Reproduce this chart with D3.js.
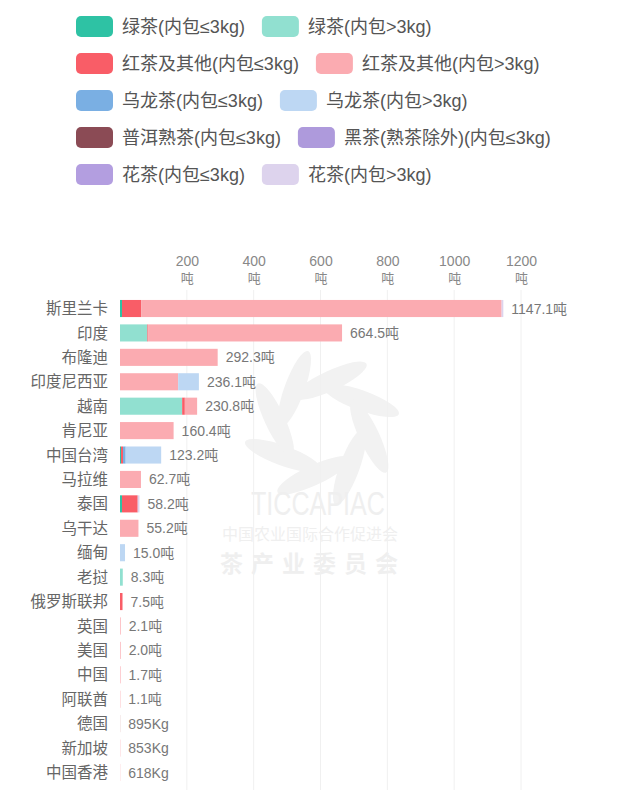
<!DOCTYPE html>
<html><head><meta charset="utf-8">
<script src="https://cdn.jsdelivr.net/npm/d3@7"></script>
<style>
html,body{margin:0;padding:0;background:#fff;}
svg{display:block;font-family:"Liberation Sans","Noto Sans CJK SC",sans-serif;}
</style></head>
<body>
<svg id="chart" width="634" height="800"></svg>
<script>
const countries = ["斯里兰卡","印度","布隆迪","印度尼西亚","越南","肯尼亚","中国台湾","马拉维","泰国","乌干达","缅甸","老挝","俄罗斯联邦","英国","美国","中国","阿联酋","德国","新加坡","中国香港"];
const seriesNames = ["绿茶(内包≤3kg)","绿茶(内包>3kg)","红茶及其他(内包≤3kg)","红茶及其他(内包>3kg)","乌龙茶(内包≤3kg)","乌龙茶(内包>3kg)","普洱熟茶(内包≤3kg)","黑茶(熟茶除外)(内包≤3kg)","花茶(内包≤3kg)","花茶(内包>3kg)"];
const seriesColors = ["#2ec2a4","#91e0d0","#f95d67","#fbabb1","#7aafe3","#bdd7f3","#8b4b55","#ae9adc","#b39ee0","#ddd3ed"];
// values in tonnes, per series (same order as seriesNames), per country
const greenSmall  = [6.0,0,0,0,0,0,3.0,0,6.0,0,0,0,0,0,0,0,0,0,0,0];
const greenLarge  = [0,82.0,0,0,186.0,0,0,0,0,0,0,8.3,0,0,0,0,0,0.3,0,0];
const blackSmall  = [58.0,2.0,0,0,8.0,0,6.0,0,47.0,0,0,0,7.5,0.5,0,0,0,0,0,0];
const blackLarge  = [1078.0,580.5,292.3,174.0,36.8,160.4,0,62.7,0,55.2,0,0,0,1.6,2.0,1.7,1.1,0.595,0.853,0.618];
const oolongSmall = [0,0,0,0,0,0,8.0,0,0,0,0,0,0,0,0,0,0,0,0,0];
const oolongLarge = [0,0,0,62.1,0,0,106.2,0,0,0,15.0,0,0,0,0,0,0,0,0,0];
const puerSmall   = [0,0,0,0,0,0,0,0,0,0,0,0,0,0,0,0,0,0,0,0];
const darkSmall   = [0,0,0,0,0,0,0,0,0,0,0,0,0,0,0,0,0,0,0,0];
const flowerSmall = [0,0,0,0,0,0,0,0,0,0,0,0,0,0,0,0,0,0,0,0];
const flowerLarge = [5.1,0,0,0,0,0,0,0,5.2,0,0,0,0,0,0,0,0,0,0,0];
const totalLabels = ["1147.1吨","664.5吨","292.3吨","236.1吨","230.8吨","160.4吨","123.2吨","62.7吨","58.2吨","55.2吨","15.0吨","8.3吨","7.5吨","2.1吨","2.0吨","1.7吨","1.1吨","895Kg","853Kg","618Kg"];
const tickValues = [200,400,600,800,1000,1200];
const tickUnit = "吨";

const seriesValues = [greenSmall,greenLarge,blackSmall,blackLarge,oolongSmall,oolongLarge,puerSmall,darkSmall,flowerSmall,flowerLarge];
const table = countries.map((c,i)=>{
  const row = {country:c};
  seriesNames.forEach((s,j)=>row[s]=seriesValues[j][i]);
  return row;
});
const stacked = d3.stack().keys(seriesNames)(table);
const color = d3.scaleOrdinal().domain(seriesNames).range(seriesColors);

const svg = d3.select("#chart");

// watermark
const wm = svg.append("g").attr("pointer-events","none");
for (let k=0;k<8;k++){
  const a = k*45 - 80;
  const r = 48;
  const cx = 322 + r*Math.cos(a*Math.PI/180), cy = 428 + r*Math.sin(a*Math.PI/180);
  wm.append("ellipse").attr("cx",cx).attr("cy",cy).attr("rx",40).attr("ry",10)
    .attr("transform",`rotate(${a+55},${cx},${cy})`).attr("fill","#f2f2f2");
}
wm.append("text").attr("x",318).attr("y",515).attr("text-anchor","middle").attr("font-size",34)
  .attr("textLength",134).attr("lengthAdjust","spacingAndGlyphs")
  .attr("fill","#efefef").text("TICCAPIAC");
wm.append("text").attr("x",310).attr("y",540).attr("text-anchor","middle").attr("font-size",16)
  .attr("fill","#efefef").attr("font-family","\"Noto Sans CJK SC\",sans-serif").text("中国农业国际合作促进会");
wm.append("text").attr("x",313).attr("y",572).attr("text-anchor","middle").attr("font-size",23)
  .attr("font-weight","bold").attr("letter-spacing",8).attr("font-family","\"Noto Sans CJK SC\",serif")
  .attr("fill","#efefef").text("茶产业委员会");

// legend
const legendRows = [[0,1],[2,3],[4,5],[6,7],[8,9]];
const legend = svg.append("g");
legendRows.forEach((row,ri)=>{
  let x = 76;
  const y = 16 + ri*37;
  row.forEach(si=>{
    legend.append("rect").attr("x",x).attr("y",y).attr("width",37).attr("height",21)
      .attr("rx",5).attr("fill",seriesColors[si]);
    const t = legend.append("text").attr("x",x+46).attr("y",y+17).attr("font-size",18)
      .attr("fill","#555").text(seriesNames[si]);
    x = x + 46 + t.node().getComputedTextLength() + 17;
  });
});

// scales
const x = d3.scaleLinear().domain([0,1200]).range([120,521]);
const y = d3.scaleBand().domain(countries).range([296.3,784.7]).paddingInner(0.3).paddingOuter(0.15);

// gridlines
svg.append("g").selectAll("line").data(tickValues).join("line")
  .attr("x1",d=>x(d)).attr("x2",d=>x(d)).attr("y1",290).attr("y2",790)
  .attr("stroke","#f0f0f0").attr("stroke-width",1);

// top axis
const axis = svg.append("g").attr("transform","translate(0,269)")
  .call(d3.axisTop(x).tickValues(tickValues).tickSize(0).tickPadding(3).tickFormat(d=>d));
axis.select(".domain").remove();
axis.selectAll("text").attr("font-size",14).attr("fill","#888").attr("dy",0);
axis.selectAll(".tick").append("text").attr("y",14).attr("text-anchor","middle")
  .attr("font-size",13).attr("fill","#888").attr("font-family","\"Noto Sans CJK SC\",sans-serif").text(tickUnit);

// bars
svg.append("g").selectAll("g").data(stacked).join("g")
  .attr("fill",d=>color(d.key))
  .selectAll("rect").data(d=>d).join("rect")
  .attr("x",d=>x(d[0])).attr("y",d=>y(d.data.country))
  .attr("width",d=>Math.max(0,x(d[1])-x(d[0]))).attr("height",y.bandwidth());

// country labels
svg.append("g").selectAll("text").data(countries).join("text")
  .attr("x",108).attr("y",d=>y(d)+y.bandwidth()/2).attr("dy","0.36em")
  .attr("text-anchor","end").attr("font-size",15.5).attr("fill","#666")
  .attr("font-family","\"Noto Sans CJK SC\",sans-serif").text(d=>d);

// total labels
const totals = table.map(r=>d3.sum(seriesNames,s=>r[s]));
svg.append("g").selectAll("text").data(countries).join("text")
  .attr("x",(d,i)=>x(totals[i])+8).attr("y",d=>y(d)+y.bandwidth()/2).attr("dy","0.36em")
  .attr("font-size",14).attr("fill","#777").text((d,i)=>totalLabels[i]);
</script>
</body></html>
